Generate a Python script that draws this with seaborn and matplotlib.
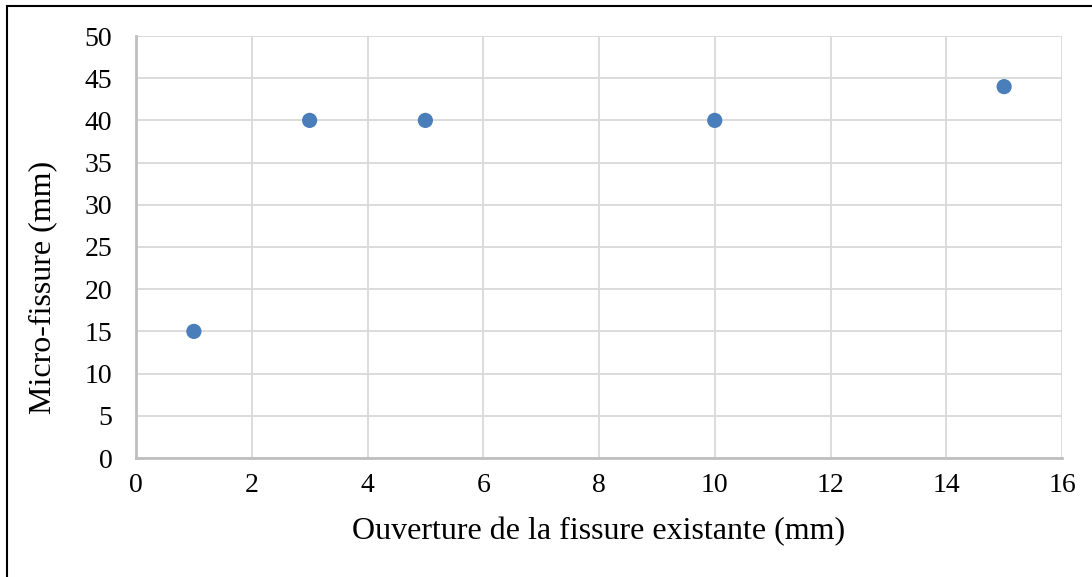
import matplotlib.pyplot as plt
import seaborn as sns
import pandas as pd
from matplotlib.patches import Rectangle

ouverture = [1, 3, 5, 10, 15]
micro_fissure = [15, 40, 40, 40, 44]

df = pd.DataFrame({"ouverture": ouverture, "micro": micro_fissure})

sns.set_style("white")
plt.rcParams['font.family'] = ['Liberation Serif', 'DejaVu Serif']

fig = plt.figure(figsize=(10.92, 5.77), dpi=100)
ax = fig.add_axes([136 / 1092, 1 - 458 / 577, (1062 - 136) / 1092, (458 - 36) / 577])

sns.scatterplot(
    x = "ouverture",
    y = "micro",
    data = df,
    s = 120,
    color = "#4A7EBB",
    edgecolor = "none",
    ax = ax,
    zorder = 3
)

ax.set_xlim(0, 16)
ax.set_ylim(0, 50)
ax.set_xticks(range(0, 17, 2))
ax.set_yticks(range(0, 51, 5))
ax.grid(True, color="#D9D9D9", linewidth=1.3)
ax.set_axisbelow(True)
for side in ["top", "right"]:
    ax.spines[side].set_visible(False)
for side in ["left", "bottom"]:
    ax.spines[side].set_color("#BFBFBF")
    ax.spines[side].set_linewidth(2)
ax.tick_params(axis="both", length=0, labelsize=20, labelcolor="black")
ax.tick_params(axis="x", pad=11)
ax.tick_params(axis="y", pad=17)
ax.set_xlabel("Ouverture de la fissure existante (mm)", fontsize=23, color="black")
ax.set_ylabel("Micro-fissure (mm)", fontsize=23, color="black")
ax.xaxis.label.set_va("center")
ax.yaxis.label.set_va("center")
ax.xaxis.set_label_coords(0.5, (458 - 532) / 422)
ax.yaxis.set_label_coords((43 - 136) / 926, (458 - 287) / 422)

fig.patches.append(Rectangle((7 / 1092, -0.1), 1.2, 1 - 6 / 577 + 0.1, transform=fig.transFigure,
                             fill=False, edgecolor="black", linewidth=1.5))

fig.savefig("out.png", dpi=100)
